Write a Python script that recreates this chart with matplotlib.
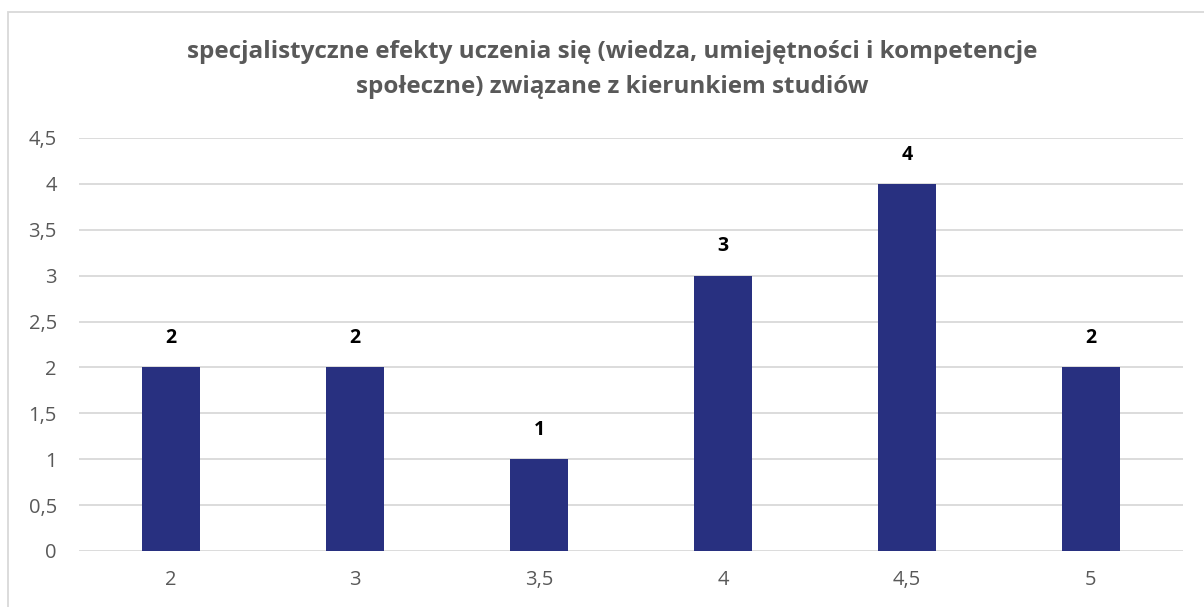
import matplotlib.pyplot as plt
from matplotlib.patches import Rectangle

categories = ["2", "3", "3,5", "4", "4,5", "5"]
values = [2, 2, 1, 3, 4, 2]
y_ticks = [0, 0.5, 1, 1.5, 2, 2.5, 3, 3.5, 4, 4.5]
y_labels = ["0", "0,5", "1", "1,5", "2", "2,5", "3", "3,5", "4", "4,5"]
title_lines = ["specjalistyczne efekty uczenia się (wiedza, umiejętności i kompetencje",
               "społeczne) związane z kierunkiem studiów"]

plt.rcParams['font.family'] = ['Open Sans', 'DejaVu Sans']

fig = plt.figure(figsize=(12.04, 6.07), dpi=100)
ax = fig.add_axes([79 / 1204, 1 - 551 / 607, (1183 - 79) / 1204, (551 - 138) / 607])

x = range(len(categories))
bars = ax.bar(x, values, width=0.31, color="#283080", zorder=3)
for b, v in zip(bars, values):
    ax.text(b.get_x() + b.get_width() / 2, v + 0.21, str(v), ha="center", va="bottom",
            fontsize=14, fontweight="bold", color="black")

ax.set_xlim(-0.5, len(categories) - 0.5)
ax.set_ylim(0, 4.5)
ax.set_yticks(y_ticks)
ax.set_yticklabels(y_labels)
ax.set_xticks(list(x))
ax.set_xticklabels(categories)
ax.tick_params(axis="both", length=0, labelsize=14.5, colors="#595959")
ax.tick_params(axis="y", pad=16)
ax.tick_params(axis="x", pad=14)
ax.grid(axis="y", color="#d9d9d9", linewidth=1.3, zorder=0)
for s in ax.spines.values():
    s.set_visible(False)

for ty, line in zip([58, 93], title_lines):
    fig.text(612 / 1204, 1 - ty / 607, line, ha="center", va="baseline", fontsize=17.5,
             fontweight="bold", color="#595959")

# chart border
fig.patches.append(Rectangle((8 / 1204, -0.1), 1.2, 1 - 12 / 607 + 0.1, transform=fig.transFigure,
                             fill=False, edgecolor="#d9d9d9", linewidth=1.3))

fig.savefig("out.png", dpi=100)
